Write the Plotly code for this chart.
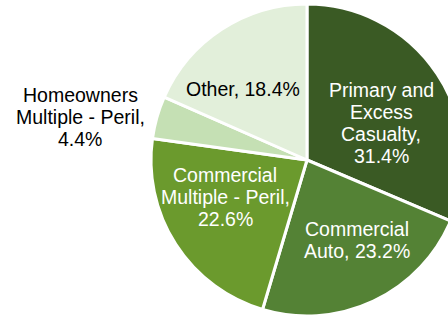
import plotly.graph_objects as go

labels = ["Primary and Excess Casualty", "Commercial Auto", "Commercial Multiple - Peril",
          "Homeowners Multiple - Peril", "Other"]
values = [31.4, 23.2, 22.6, 4.4, 18.4]
label_lines = [["Primary and", "Excess", "Casualty,"], ["Commercial", "Auto,"],
               ["Commercial", "Multiple - Peril,"], ["Homeowners", "Multiple - Peril,"], ["Other,"]]
colors = ["#3A5A24", "#548235", "#6B9A2D", "#C5E0B4", "#E2EFDA"]
text_colors = ["white", "white", "white", "black", "black"]

W, H = 470, 316
# label block centre positions in pixels
label_pos = [(381, 123), (357, 240), (225, 197), (80, 117), (243, 89)]
LINE = 22

fig = go.Figure(go.Pie(
    labels=labels, values=values, sort=False, direction="clockwise", rotation=0,
    marker=dict(colors=colors, line=dict(color="white", width=3)),
    textinfo="none", hoverinfo="label+percent", showlegend=False,
    domain=dict(x=[151 / W, 463 / W], y=[0, 312 / H]),
))

for lines, v, (px, py), c in zip(label_lines, values, label_pos, text_colors):
    txt = list(lines)
    if lines[-1].startswith("Other") or lines[-1].startswith("Auto"):
        txt[-1] = f"{lines[-1]} {v}%"
    else:
        txt.append(f"{v}%")
    n = len(txt)
    for i, t in enumerate(txt):
        ly = py + (i - (n - 1) / 2) * LINE
        fig.add_annotation(
            x=px / W, y=1 - ly / H, xref="paper", yref="paper",
            text=t, showarrow=False, align="center",
            xanchor="center", yanchor="middle",
            font=dict(family="Liberation Sans, Arial, sans-serif", size=19.5, color=c),
        )

fig.update_layout(width=W, height=H, margin=dict(l=0, r=0, t=0, b=0),
                  paper_bgcolor="white", plot_bgcolor="white")
fig.write_html(
    "out.html",
    config={"displayModeBar": False},
    post_script=("document.body.style.margin='0';"
                 "document.body.style.overflow='hidden';"
                 "document.documentElement.style.overflow='hidden';"),
)
